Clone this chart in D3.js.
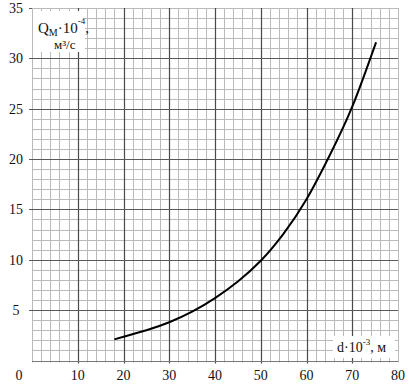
<!DOCTYPE html>
<html>
<head>
<meta charset="utf-8">
<script src="https://cdn.jsdelivr.net/npm/d3@7"></script>
<style>
    body { margin: 0; background: #fff; }
    text { font-family: "Liberation Serif", "Times New Roman", serif; fill: #111; }
</style>
</head>
<body>
<div id="chart"></div>
<script>
// curve Q(d)
var dValues = [18, 20, 25, 30, 35, 40, 45, 50, 55, 60, 65, 70, 75.2];
var qValues = [2.1, 2.35, 3.0, 3.8, 4.85, 6.2, 7.85, 9.9, 12.6, 16.0, 20.3, 25.2, 31.6];

var xTickLabels = [10, 20, 30, 40, 50, 60, 70, 80];
var yTickLabels = [5, 10, 15, 20, 25, 30, 35];

var w = 409, h = 385;

var svg = d3.select('#chart').append('svg')
    .attr('width', w)
    .attr('height', h);

var x = d3.scaleLinear().domain([0, 80]).range([32, 398]);
var y = d3.scaleLinear().domain([0, 35]).range([360.5, 8]);

// minor grid
var g = svg.append('g').attr('class', 'grid');

g.selectAll('.vminor')
    .data(d3.range(0, 81, 2).filter(function (d) { return d % 10 !== 0 || d === 0 || d === 80; }))
    .join('line')
    .attr('x1', function (d) { return Math.round(x(d)) + 0.5; })
    .attr('x2', function (d) { return Math.round(x(d)) + 0.5; })
    .attr('y1', y(35))
    .attr('y2', y(0) + 2)
    .style('stroke', '#bababa')
    .style('stroke-width', 1);

g.selectAll('.hminor')
    .data(d3.range(1, 36).filter(function (d) { return d % 5 !== 0 || d === 35; }))
    .join('line')
    .attr('x1', x(0))
    .attr('x2', x(80))
    .attr('y1', function (d) { return Math.round(y(d)) + 0.5; })
    .attr('y2', function (d) { return Math.round(y(d)) + 0.5; })
    .style('stroke', '#bababa')
    .style('stroke-width', 1);

// major grid
g.selectAll('.vmajor')
    .data(d3.range(10, 80, 10))
    .join('line')
    .attr('x1', function (d) { return Math.round(x(d)) + 0.5; })
    .attr('x2', function (d) { return Math.round(x(d)) + 0.5; })
    .attr('y1', y(35))
    .attr('y2', y(0) + 3)
    .style('stroke', '#4a4a4a')
    .style('stroke-width', 1.2);

g.selectAll('.hmajor')
    .data(d3.range(5, 35, 5))
    .join('line')
    .attr('x1', x(0) - 3)
    .attr('x2', x(80))
    .attr('y1', function (d) { return Math.round(y(d)) + 0.5; })
    .attr('y2', function (d) { return Math.round(y(d)) + 0.5; })
    .style('stroke', '#5a5a5a')
    .style('stroke-width', 1.1);

// top tick at 35
svg.append('line')
    .attr('x1', x(0) - 3).attr('x2', x(0))
    .attr('y1', Math.round(y(35)) + 0.5).attr('y2', Math.round(y(35)) + 0.5)
    .style('stroke', '#5a5a5a');

// bottom axis line
svg.append('line')
    .attr('x1', x(0))
    .attr('x2', x(80))
    .attr('y1', Math.round(y(0)) + 0.5)
    .attr('y2', Math.round(y(0)) + 0.5)
    .style('stroke', '#777')
    .style('stroke-width', 1.2);

// curve
var line = d3.line()
    .x(function (d, i) { return x(dValues[i]); })
    .y(function (d, i) { return y(qValues[i]); })
    .curve(d3.curveNatural);

svg.append('path')
    .datum(dValues)
    .attr('d', line)
    .style('fill', 'none')
    .style('stroke', '#000')
    .style('stroke-width', 2);

// tick labels
svg.selectAll('.ylab')
    .data(yTickLabels)
    .join('text')
    .attr('x', 16)
    .attr('y', function (d) { return y(d); })
    .attr('dy', '0.35em')
    .style('text-anchor', 'middle')
    .style('font-size', '14px')
    .text(function (d) { return d; });

svg.selectAll('.xlab')
    .data(xTickLabels)
    .join('text')
    .attr('x', function (d) { return x(d); })
    .attr('y', 380)
    .style('text-anchor', 'middle')
    .style('font-size', '14px')
    .text(function (d) { return d; });

svg.append('text')
    .attr('x', 19)
    .attr('y', 380)
    .style('text-anchor', 'middle')
    .style('font-size', '14px')
    .text('0');

// y axis title
svg.append('rect')
    .attr('x', x(0) + 1).attr('y', 11)
    .attr('width', 52).attr('height', 41)
    .style('fill', '#fff');

var qt = svg.append('text')
    .attr('x', 38)
    .attr('y', 33)
    .style('font-size', '15px');
qt.append('tspan').text('Q');
qt.append('tspan').attr('dy', 3).style('font-size', '10px').text('М');
qt.append('tspan').attr('dy', -3).text('·10');
qt.append('tspan').attr('dy', -9).style('font-size', '9px').text('-4');
qt.append('tspan').attr('dy', 9).text(',');

var ut = svg.append('text')
    .attr('x', 54)
    .attr('y', 49)
    .style('font-size', '13px');
ut.append('tspan').text('м³/с');

// x axis title
svg.append('rect')
    .attr('x', 333).attr('y', 336)
    .attr('width', 62).attr('height', 22)
    .style('fill', '#fff');

var xt = svg.append('text')
    .attr('x', 337)
    .attr('y', 352)
    .style('font-size', '14px');
xt.append('tspan').text('d·10');
xt.append('tspan').attr('dy', -7).style('font-size', '9px').text('-3');
xt.append('tspan').attr('dy', 7).text(', м');
</script>
</body>
</html>
